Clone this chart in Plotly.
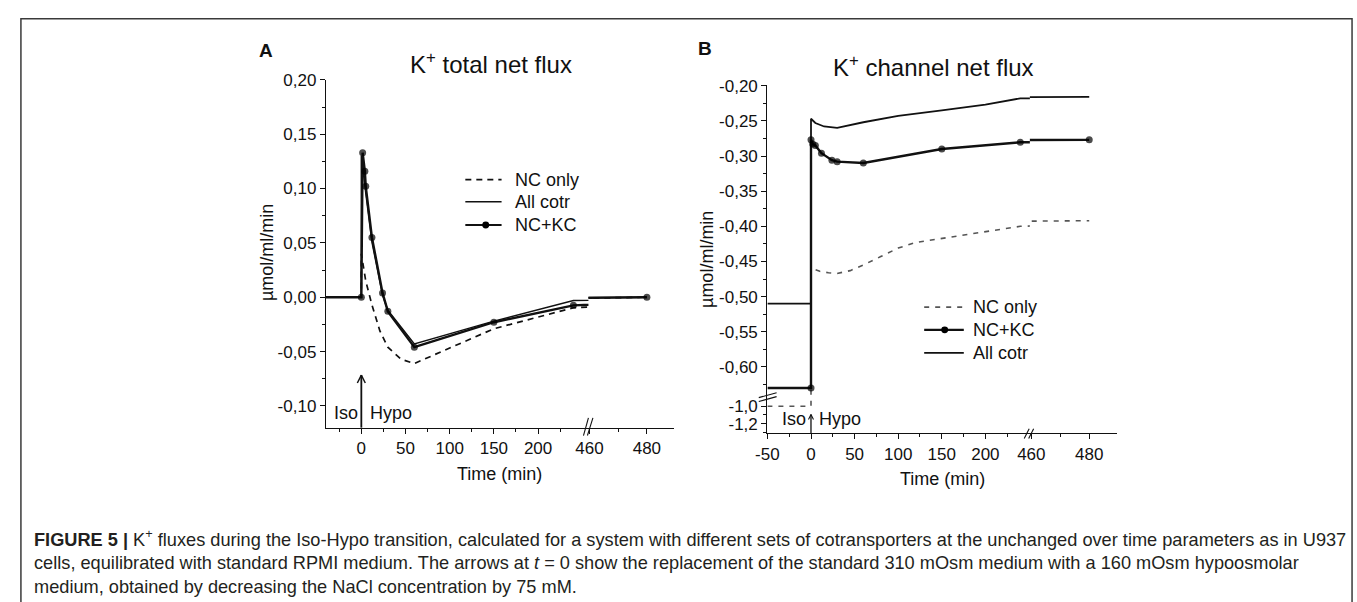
import plotly.graph_objects as go

W, H = 1357, 602

# ---------------- data ----------------
# Panel A: K+ total net flux (umol/ml/min) vs time (min)
a_nc_t = [-40, 0, 0, 2, 5, 12, 21, 30, 45, 60, 150, 240, 480]
a_nc_v = [0.0, 0.0, 0.040, 0.031, 0.015, -0.007, -0.031, -0.046, -0.057, -0.061, -0.029, -0.0097, 0.0]
a_all_t = [-40, 0, 0, 3, 5, 12, 24, 30, 60, 150, 240, 480]
a_all_v = [0.0, 0.0, 0.130, 0.108, 0.096, 0.051, 0.002, -0.012, -0.043, -0.022, -0.003, 0.0]
a_nckc_t = [-40, 0, 1.5, 4, 5, 12, 24, 30, 60, 150, 240, 480]
a_nckc_v = [0.0, 0.0, 0.133, 0.116, 0.102, 0.055, 0.004, -0.013, -0.046, -0.023, -0.0075, 0.0]

# Panel B: K+ channel net flux
b_nc_t = [-50, 0, 0, 10, 20, 30, 45, 60, 80, 100, 120, 150, 200, 240, 480]
b_nc_v = [-1.0, -1.0, -0.459, -0.464, -0.466, -0.467, -0.463, -0.455, -0.443, -0.431, -0.423, -0.417, -0.408, -0.400, -0.392]
b_nckc_t = [-50, 0, 0, 2, 5, 12, 24, 30, 60, 150, 240, 480]
b_nckc_v = [-0.630, -0.630, -0.277, -0.283, -0.285, -0.296, -0.306, -0.308, -0.310, -0.290, -0.2805, -0.277]
b_all_t = [-50, 0, 0, 5, 15, 30, 60, 100, 150, 200, 240, 480]
b_all_v = [-0.510, -0.510, -0.247, -0.253, -0.258, -0.260, -0.252, -0.243, -0.235, -0.227, -0.218, -0.216]

# tick labels
a_xticks_1 = [0, 50, 100, 150, 200]
a_xticks_2 = [460, 480]
b_xticks_1 = [-50, 0, 50, 100, 150, 200]
b_xticks_2 = [460, 480]
a_yticks = [-0.10, -0.05, 0.0, 0.05, 0.10, 0.15, 0.20]
a_yticktext = ["-0,10", "-0,05", "0,00", "0,05", "0,10", "0,15", "0,20"]
b_yticks_up = [-0.60, -0.55, -0.50, -0.45, -0.40, -0.35, -0.30, -0.25, -0.20]
b_yticktext_up = ["-0,60", "-0,55", "-0,50", "-0,45", "-0,40", "-0,35", "-0,30", "-0,25", "-0,20"]
b_yticks_lo = [-1.2, -1.0]
b_yticktext_lo = ["-1,2", "-1,0"]

# ---------------- helpers ----------------
def px(xp):
    return xp / W

def py(yp):
    return 1 - yp / H

FONT = "Arial, Liberation Sans, sans-serif"
INK = "#111111"

fig = go.Figure()

def add_series(t, v, pairs, line, with_markers=False):
    sizes = [0 if ti < 0 else 7 for ti in t]
    for xa, ya in pairs:
        fig.add_trace(go.Scatter(
            x=t, y=v, xaxis=xa, yaxis=ya,
            mode="lines+markers" if with_markers else "lines",
            line=line,
            marker=dict(size=sizes, color="#000000", line=dict(width=0)) if with_markers else None,
            showlegend=False, hoverinfo="skip"))

pairsA = [("x", "y"), ("x2", "y")]
pairsB = [("x3", "y2"), ("x4", "y2"), ("x3", "y3"), ("x4", "y3")]

add_series(a_nc_t, a_nc_v, pairsA, dict(color=INK, width=1.7, dash="6px,5px"))
add_series(a_all_t, a_all_v, pairsA, dict(color=INK, width=1.5))
add_series(a_nckc_t, a_nckc_v, pairsA, dict(color=INK, width=2.4), with_markers=True)

add_series(b_nc_t, b_nc_v, pairsB, dict(color="#555555", width=1.6, dash="5px,6px"))
add_series(b_all_t, b_all_v, pairsB, dict(color=INK, width=1.8))
add_series(b_nckc_t, b_nckc_v, pairsB, dict(color=INK, width=2.4), with_markers=True)

# ---------------- axes ----------------
def ax_common(**kw):
    d = dict(showline=True, linecolor=INK, linewidth=1.4, ticks="outside", ticklen=5,
             tickwidth=1.2, tickcolor=INK, showgrid=False, zeroline=False,
             tickfont=dict(family=FONT, size=17, color=INK), fixedrange=True,
             tickmode="array")
    d.update(kw)
    return d

def minor(vals):
    return dict(ticks="outside", ticklen=3, tickwidth=1, tickcolor=INK,
                tickmode="array", tickvals=vals, showgrid=False)

seg1_minor = [-25, 25, 75, 125, 175, 225]

layout_axes = dict(
    xaxis=ax_common(domain=[px(316), px(581)], range=[-40, 257], anchor="y",
                    tickvals=a_xticks_1, ticktext=[str(v) for v in a_xticks_1],
                    minor=minor(seg1_minor)),
    xaxis2=ax_common(domain=[px(581), px(667)], range=[459.66, 489.3], anchor="y",
                     tickvals=a_xticks_2, ticktext=[str(v) for v in a_xticks_2],
                     minor=minor([470])),
    yaxis=ax_common(domain=[py(425), py(71.7)], range=[-0.12, 0.2002], anchor="x",
                    tickvals=a_yticks, ticktext=a_yticktext,
                    minor=minor([-0.075, -0.025, 0.025, 0.075, 0.125, 0.175])),
    xaxis3=ax_common(domain=[px(761.7), px(1026.7)], range=[-50, 251], anchor="y3",
                     tickvals=b_xticks_1, ticktext=[str(v) for v in b_xticks_1],
                     minor=minor(seg1_minor)),
    xaxis4=ax_common(domain=[px(1026.7), px(1115)], range=[459.5, 489.7], anchor="y3",
                     tickvals=b_xticks_2, ticktext=[str(v) for v in b_xticks_2],
                     minor=minor([470])),
    yaxis2=ax_common(domain=[py(393), py(77.5)], range=[-0.6415, -0.1995], anchor="x3",
                     tickvals=b_yticks_up, ticktext=b_yticktext_up,
                     minor=minor([-0.625, -0.575, -0.525, -0.475, -0.425, -0.375, -0.325, -0.275, -0.225])),
    yaxis3=ax_common(domain=[py(430.7), py(393)], range=[-1.31, -0.884], anchor="x3",
                     tickvals=b_yticks_lo, ticktext=b_yticktext_lo,
                     minor=minor([-1.3, -1.1])),
)

# ---------------- annotations ----------------
def txt(x, y, s, size=18, **kw):
    d = dict(x=px(x), y=py(y), xref="paper", yref="paper", text=s, showarrow=False,
             font=dict(family=FONT, size=size, color=INK), xanchor="center", yanchor="middle")
    d.update(kw)
    return d

annotations = [
    txt(255, 41.7, "<b>A</b>", size=19),
    txt(699, 40, "<b>B</b>", size=19),
    txt(482.7, 55, "K<sup>+</sup> total net flux", size=24),
    txt(929, 58.3, "K<sup>+</sup> channel net flux", size=24),
    txt(256.7, 247.5, "µmol/ml/min", size=18, textangle=-90),
    txt(700.5, 254, "µmol/ml/min", size=18, textangle=-90),
    txt(491.7, 471.7, "Time (min)", size=18),
    txt(938, 476.7, "Time (min)", size=18),
    txt(336, 410, "Iso", size=18),
    txt(381.7, 410, "Hypo", size=18),
    txt(788.3, 416.7, "Iso", size=18),
    txt(835, 416.7, "Hypo", size=18),
    # legend texts
    txt(505, 173.3, "NC only", xanchor="left"),
    txt(505, 195.7, "All cotr", xanchor="left"),
    txt(505, 219.3, "NC+KC", xanchor="left"),
    txt(967.3, 302.7, "NC only", xanchor="left"),
    txt(967.3, 325.7, "NC+KC", xanchor="left"),
    txt(967.3, 349, "All cotr", xanchor="left"),
    # caption
    dict(x=px(19), y=py(561), xref="paper", yref="paper", xanchor="left", yanchor="middle",
         align="left", showarrow=False,
         font=dict(family=FONT, size=18.2, color="#231f20"),
         text=("<b>FIGURE 5 |</b> K<sup>+</sup> fluxes during the Iso-Hypo transition, calculated for a system "
               "with different sets of cotransporters at the unchanged over time parameters as in U937<br>"
               "cells, equilibrated with standard RPMI medium. The arrows at <i>t</i> = 0 show the replacement "
               "of the standard 310 mOsm medium with a 160 mOsm hypoosmolar<br>"
               "medium, obtained by decreasing the NaCl concentration by 75 mM.")),
]

# ---------------- shapes (frame, arrows, legend samples, axis breaks) ----------------
def seg(x0, y0, x1, y1, color=INK, width=1.3, dash=None):
    ln = dict(color=color, width=width)
    if dash:
        ln["dash"] = dash
    return dict(type="line", xref="paper", yref="paper", x0=px(x0), y0=py(y0),
                x1=px(x1), y1=py(y1), line=ln)

def dot(cx, cy, r=3.5):
    return dict(type="circle", xref="paper", yref="paper", x0=px(cx - r), x1=px(cx + r),
                y0=py(cy + r), y1=py(cy - r), fillcolor="#000000", line=dict(width=0))

def arrow(xc, ybot, ytip, half, hlen, width):
    return [seg(xc, ybot, xc, ytip, width=width),
            seg(xc - half, ytip + hlen, xc, ytip, width=width * 0.8),
            seg(xc + half, ytip + hlen, xc, ytip, width=width * 0.8)]

shapes = [
    dict(type="rect", xref="paper", yref="paper", x0=px(8), x1=px(1352), y0=py(10), y1=py(640),
         line=dict(color="#3a3a3a", width=1.5), fillcolor="rgba(0,0,0,0)"),
    # legend A
    seg(456.7, 173.3, 493.3, 173.3, width=1.7, dash="6px,5px"),
    seg(456.7, 195.7, 493.3, 195.7, width=1.5),
    seg(456.7, 219.3, 493.3, 219.3, width=2.0),
    dot(477.3, 219.3),
    # legend B
    seg(920, 302.7, 960, 302.7, color="#555555", width=1.6, dash="5px,6px"),
    seg(920, 325.7, 960, 325.7, width=2.2),
    dot(940.7, 325.7),
    seg(920, 349, 960, 349, width=1.8),
    # x-axis break A
    seg(576, 433, 581, 415, width=1.1),
    seg(580, 433, 585.5, 415, width=1.1),
    # x-axis break B
    seg(1021, 436, 1026, 426, width=1.1),
    seg(1025.5, 436, 1030.5, 426, width=1.1),
    # y-axis break B
    seg(753, 394.5, 771, 389.5, width=1.1),
    seg(753, 398.5, 771, 393.5, width=1.1),
]
# arrows marking t = 0 (Iso -> Hypo)
shapes += arrow(351.7, 425, 371.7, 4.0, 8.0, 1.8)
shapes += arrow(805.7, 430.7, 411.7, 2.5, 5.0, 1.3)

fig.update_layout(
    width=W, height=H, margin=dict(l=0, r=0, t=0, b=0, pad=0),
    paper_bgcolor="white", plot_bgcolor="white",
    showlegend=False, annotations=annotations, shapes=shapes,
    font=dict(family=FONT, color=INK),
    **layout_axes,
)

fig.write_html("out.html", post_script="document.body.style.margin='0';")
